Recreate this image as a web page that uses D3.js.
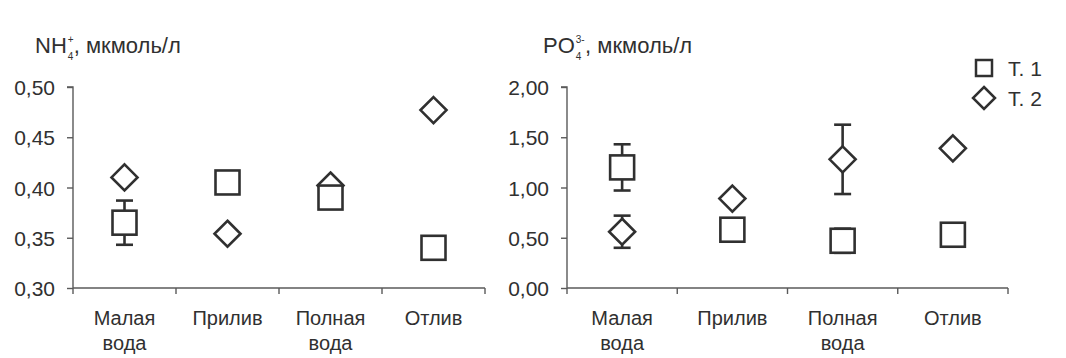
<!DOCTYPE html>
<html><head><meta charset="utf-8">
<script src="https://cdn.jsdelivr.net/npm/d3@7"></script>
<style>
body{margin:0;background:#fff;}
svg{display:block;font-family:"Liberation Sans",Arial,sans-serif;}
</style></head>
<body>
<svg id="c" width="1066" height="358"></svg>
<script>
const categories = ["Малая вода","Прилив","Полная вода","Отлив"];
// NH4 panel
const nh4T1 = [0.365, 0.405, 0.390, 0.340];
const nh4T1Err = [0.022, 0, 0, 0];
const nh4T2 = [0.410, 0.354, 0.402, 0.477];
const nh4T2Err = [0, 0, 0, 0];
const nh4Ticks = [0.30, 0.35, 0.40, 0.45, 0.50];
// PO4 panel
const po4T1 = [1.20, 0.58, 0.47, 0.53];
const po4T1Err = [0.23, 0, 0.12, 0];
const po4T2 = [0.56, 0.89, 1.28, 1.39];
const po4T2Err = [0.16, 0, 0.345, 0];
const po4Ticks = [0, 0.5, 1.0, 1.5, 2.0];
const legendLabels = ["Т. 1", "Т. 2"];

const ink = "#303030";
const axisCol = "#5a5a5a";
const svg = d3.select("#c");
const fmt = d => d.toFixed(2).replace(".", ",");

function panel(opts){
  const g = svg.append("g");
  const x = d3.scaleBand().domain(categories).range([opts.x0, opts.x1]);
  const y = d3.scaleLinear().domain(opts.domain).range([288, 87]);
  // y axis
  const ya = g.append("g").attr("transform", `translate(${opts.x0},0)`)
    .call(d3.axisLeft(y).tickValues(opts.ticks).tickFormat(fmt).tickSize(6).tickPadding(12));
  ya.select(".domain").attr("stroke", axisCol).attr("stroke-width", 1.4).attr("d", `M-6,87H0V288`);
  ya.selectAll(".tick line").attr("stroke", axisCol).attr("stroke-width", 1.4);
  ya.selectAll(".tick text").attr("fill", ink).attr("font-size", 21).attr("dy", "0.36em");
  // x axis
  const xa = g.append("g").attr("transform", `translate(0,288)`);
  xa.append("line").attr("x1", opts.x0).attr("x2", opts.x1).attr("stroke", axisCol).attr("stroke-width", 1.4);
  const bounds = categories.map(c => x(c)).concat([opts.x1]);
  xa.selectAll("line.t").data(bounds).join("line").attr("class","t")
    .attr("x1", d => d).attr("x2", d => d).attr("y1", 0).attr("y2", 6)
    .attr("stroke", axisCol).attr("stroke-width", 1.4);
  const lab = xa.selectAll("text").data(categories).join("text")
    .attr("x", d => x(d) + x.bandwidth()/2).attr("y", 37)
    .attr("text-anchor", "middle").attr("fill", ink).attr("font-size", 20);
  lab.each(function(d){
    const parts = d.split(" ");
    const t = d3.select(this);
    parts.forEach((p,i) => t.append("tspan").attr("x", x(d) + x.bandwidth()/2).attr("dy", i === 0 ? 0 : 25).text(p));
  });
  // title
  const title = g.append("text").attr("x", opts.titleX).attr("y", 53).attr("fill", ink).attr("font-size", 22);
  title.append("tspan").text(opts.base);
  title.append("tspan").attr("font-size", 10).attr("dx", 1).attr("dy", -10).text(opts.sup);
  title.append("tspan").attr("font-size", 10).attr("dx", opts.supShift).attr("dy", 17).text(opts.sub);
  title.append("tspan").attr("dx", opts.restShift).attr("dy", -7).text(", мкмоль/л");

  const cx = c => x(c) + x.bandwidth()/2;
  function errBars(vals, errs){
    const d = categories.map((c,i) => ({c, v: vals[i], e: errs[i]})).filter(o => o.e > 0);
    const eg = g.append("g").attr("stroke", ink).attr("stroke-width", 2.6).attr("fill", "none");
    d.forEach(o => {
      eg.append("line").attr("x1", cx(o.c)).attr("x2", cx(o.c)).attr("y1", y(o.v + o.e)).attr("y2", y(o.v - o.e));
      [o.v + o.e, o.v - o.e].forEach(v => eg.append("line").attr("x1", cx(o.c) - 8.5).attr("x2", cx(o.c) + 8.5).attr("y1", y(v)).attr("y2", y(v)));
    });
  }
  errBars(opts.t2, opts.t2e);
  g.append("g").selectAll("path").data(categories).join("path")
    .attr("d", (c,i) => { const px = cx(c), py = y(opts.t2[i]); return `M${px},${py-13}L${px+13},${py}L${px},${py+13}L${px-13},${py}Z`; })
    .attr("fill", "#fff").attr("stroke", ink).attr("stroke-width", 2.6);
  errBars(opts.t1, opts.t1e);
  g.append("g").selectAll("rect").data(categories).join("rect")
    .attr("x", c => cx(c) - 12).attr("y", (c,i) => y(opts.t1[i]) - 12)
    .attr("width", 24).attr("height", 24)
    .attr("fill", "#fff").attr("stroke", ink).attr("stroke-width", 2.6);
  return {x, y};
}

panel({x0: 73, x1: 485, domain: [0.30, 0.50], ticks: nh4Ticks, t1: nh4T1, t1e: nh4T1Err, t2: nh4T2, t2e: nh4T2Err,
  titleX: 35, base: "NH", sup: "+", sub: "4", supShift: -6, restShift: 0.5});
panel({x0: 567, x1: 1008, domain: [0, 2], ticks: po4Ticks, t1: po4T1, t1e: po4T1Err, t2: po4T2, t2e: po4T2Err,
  titleX: 543, base: "PO", sup: "3-", sub: "4", supShift: -9, restShift: 3.8});

// legend
const lg = svg.append("g");
lg.append("rect").attr("x", 976).attr("y", 60).attr("width", 16).attr("height", 16)
  .attr("fill", "#fff").attr("stroke", ink).attr("stroke-width", 2.5);
lg.append("path").attr("d", "M984,87L995,98L984,109L973,98Z").attr("fill", "#fff").attr("stroke", ink).attr("stroke-width", 2.5);
lg.selectAll("text").data(legendLabels).join("text")
  .attr("x", 1008).attr("y", (d,i) => 76 + i*30).attr("fill", ink).attr("font-size", 21).text(d => d);
</script>
</body></html>
